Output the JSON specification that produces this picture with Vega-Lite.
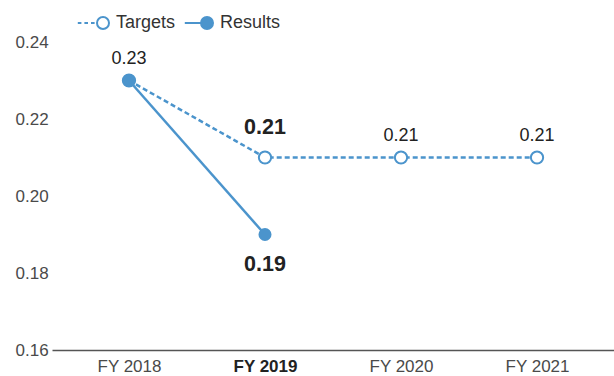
{
  "$schema": "https://vega.github.io/schema/vega-lite/v6.json",
  "width": 562,
  "height": 308,
  "autosize": {"type": "none"},
  "padding": {"left": 52, "top": 42, "right": 0, "bottom": 26},
  "background": "white",
  "config": {
    "view": {"stroke": null},
    "font": "Liberation Sans",
    "axis": {"grid": false, "ticks": false, "labelFont": "Liberation Sans", "labelColor": "#4a4a4a", "labelFontSize": 17}
  },
  "data": {
    "values": [
      {"year": "FY 2018", "series": "Targets", "value": 0.23},
      {"year": "FY 2019", "series": "Targets", "value": 0.21},
      {"year": "FY 2020", "series": "Targets", "value": 0.21},
      {"year": "FY 2021", "series": "Targets", "value": 0.21},
      {"year": "FY 2018", "series": "Results", "value": 0.23},
      {"year": "FY 2019", "series": "Results", "value": 0.19}
    ]
  },
  "encoding": {
    "x": {
      "field": "year",
      "type": "ordinal",
      "sort": null,
      "scale": {"type": "point", "padding": 0.566},
      "axis": {
        "title": null,
        "labelAngle": 0,
        "labelPadding": 8,
        "domainColor": "#555555",
        "domainWidth": 1.5,
        "labelFontWeight": {"condition": {"test": "datum.value === 'FY 2019'", "value": "bold"}, "value": "normal"},
        "labelColor": {"condition": {"test": "datum.value === 'FY 2019'", "value": "#222222"}, "value": "#4a4a4a"}
      }
    },
    "y": {
      "field": "value",
      "type": "quantitative",
      "scale": {"domain": [0.16, 0.24], "nice": false, "zero": false},
      "axis": {
        "title": null,
        "values": [0.16, 0.18, 0.2, 0.22, 0.24],
        "format": ".2f",
        "domain": false,
        "labelAlign": "left",
        "labelPadding": 37
      }
    }
  },
  "layer": [
    {
      "transform": [{"filter": "datum.series === 'Targets'"}],
      "mark": {"type": "line", "strokeWidth": 2.5, "color": "#4b94cc", "strokeDash": [5, 3]},
      "encoding": {}
    },
    {
      "transform": [{"filter": "datum.series === 'Results'"}],
      "mark": {"type": "line", "strokeWidth": 2.5},
      "encoding": {
        "color": {
          "field": "series",
          "type": "nominal",
          "scale": {"domain": ["Targets", "Results"], "range": ["#4b94cc", "#4b94cc"]},
          "legend": {
            "title": null,
            "orient": "none",
            "direction": "horizontal",
            "legendX": 42,
            "legendY": -28,
            "padding": 0,
            "symbolSize": 144,
            "symbolStrokeWidth": 2,
            "labelFontSize": 18,
            "labelColor": "#333333",
            "labelOffset": 4,
            "columnPadding": 4,
            "encode": {
              "symbols": {
                "update": {
                  "shape": {"signal": "datum.value === 'Targets' ? 'M-4.2,0H-3.6M-3.1,0H-2.5M-2,0H-1.4M1,0A1,1 0 1,1 -1,0A1,1 0 1,1 1,0Z' : 'M-3.7,0H-1M1,0A1,1 0 1,1 -1,0A1,1 0 1,1 1,0Z'"},
                  "fill": {"signal": "datum.value === 'Targets' ? '#ffffff' : '#4b94cc'"},
                  "stroke": {"value": "#4b94cc"},
                  "strokeWidth": {"value": 2},
                  "opacity": {"value": 1}
                }
              }
            }
          }
        }
      }
    },
    {
      "transform": [{"filter": "datum.series === 'Targets'"}],
      "mark": {"type": "point", "shape": "circle", "filled": true, "fill": "white", "stroke": "#4b94cc", "strokeWidth": 2, "size": 150, "opacity": 1}
    },
    {
      "transform": [{"filter": "datum.series === 'Results'"}],
      "mark": {"type": "point", "shape": "circle", "filled": true, "fill": "#4b94cc", "stroke": null, "size": 170, "opacity": 1}
    },
    {
      "transform": [{"filter": "datum.series === 'Targets' && datum.year !== 'FY 2019'"}],
      "mark": {"type": "text", "dy": -22, "fontSize": 18, "color": "#222222"},
      "encoding": {"text": {"field": "value", "type": "quantitative", "format": ".2f"}}
    },
    {
      "transform": [{"filter": "datum.series === 'Targets' && datum.year === 'FY 2019'"}],
      "mark": {"type": "text", "dy": -30, "fontSize": 21.5, "fontWeight": "bold", "color": "#222222"},
      "encoding": {"text": {"field": "value", "type": "quantitative", "format": ".2f"}}
    },
    {
      "transform": [{"filter": "datum.series === 'Results' && datum.year === 'FY 2019'"}],
      "mark": {"type": "text", "dy": 30, "fontSize": 21.5, "fontWeight": "bold", "color": "#222222"},
      "encoding": {"text": {"field": "value", "type": "quantitative", "format": ".2f"}}
    }
  ]
}
